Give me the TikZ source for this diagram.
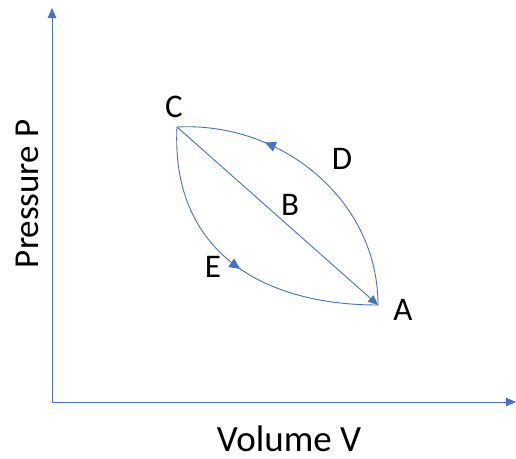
\documentclass[tikz,border=0pt]{standalone}
\usepackage{fontspec}
\setmainfont{Carlito}
\usetikzlibrary{arrows.meta,decorations.markings}
\definecolor{lineblue}{HTML}{4472C4}
\tikzset{
  curve/.style={draw=lineblue, line width=0.9pt},
  tip/.style={-{Triangle[length=10pt,width=8.5pt]}},
  lbl/.style={font=\fontsize{33}{38}\selectfont, text=black, inner sep=0pt},
  axlbl/.style={font=\fontsize{37}{42}\selectfont, text=black, inner sep=0pt},
  midarrow/.style={postaction={decorate, decoration={markings, mark=at position #1 with {\arrow{Triangle[length=11pt,width=10pt]}}}}}
}
\begin{document}
\begin{tikzpicture}[x=1pt,y=-1pt]
\useasboundingbox (0,0) rectangle (516,458);
\coordinate (O) at (52,402);
\coordinate (Ytop) at (52,8);
\coordinate (Xend) at (516,402);
\coordinate (C) at (177,127);
\coordinate (A) at (378,305);
\draw[curve, tip] (O) -- (Ytop);
\draw[curve, tip] (O) -- (Xend);
\draw[curve, tip] (C) -- (A);
\draw[curve, midarrow=0.7] (A) to[out=90, in=3] (C);
\draw[curve, midarrow=0.53] (C) to[out=-93, in=180, looseness=1.15] (A);
\node[lbl] (lC) at (174,107) {C};
\node[lbl] (lD) at (342,159) {D};
\node[lbl] (lB) at (290,205) {B};
\node[lbl] (lE) at (213,267) {E};
\node[lbl] (lA) at (403,310) {A};
\node[axlbl, font=\fontsize{35}{40}\selectfont, rotate=90] (lP) at (27,194) {Pressure P};
\node[axlbl] (lV) at (289,439) {Volume V};
\end{tikzpicture}
\end{document}
